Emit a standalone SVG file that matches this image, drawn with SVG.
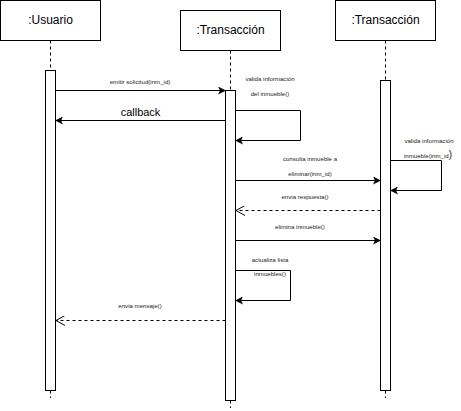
<svg xmlns="http://www.w3.org/2000/svg" width="461" height="411" viewBox="0 0 461 411">
<style>
.box{fill:#fff;stroke:#000;stroke-width:1}
.act{fill:#fff;stroke:#000;stroke-width:1}
.life{stroke:#000;stroke-width:1;stroke-dasharray:3,3;fill:none}
.msg{stroke:#000;stroke-width:1;fill:none}
.ret{stroke:#000;stroke-width:1;fill:none;stroke-dasharray:3,3}
.t{font-family:"Liberation Sans",Arial,sans-serif;fill:#000;text-anchor:middle}
.big{font-size:12px}
.sm{font-size:6.1px;fill:#222}
</style>
<defs>
<marker id="fill" markerWidth="8" markerHeight="8" refX="7" refY="4" orient="auto" markerUnits="userSpaceOnUse">
<path d="M0,0 L8,4 L0,8 L2,4 Z" fill="#000"/>
</marker>
<marker id="open" markerWidth="10" markerHeight="10" refX="9" refY="5" orient="auto" markerUnits="userSpaceOnUse">
<path d="M0,0 L9,5 L0,10" fill="none" stroke="#000" stroke-width="1"/>
</marker>
</defs>
<rect width="461" height="411" fill="#fff"/>
<g id="usuario">
<rect class="box" x="0.5" y="0.5" width="100" height="40"/>
<text class="t big" x="50.5" y="24">:Usuario</text>
<line class="life" x1="50.5" y1="40.5" x2="50.5" y2="70.5"/>
<rect class="act" x="45.5" y="70.5" width="10" height="320"/>
<line class="life" x1="50.5" y1="390.5" x2="50.5" y2="398"/>
</g>
<g id="transaccion1">
<rect class="box" x="180.5" y="10.5" width="100" height="40"/>
<text class="t big" x="230.5" y="34">:Transacción</text>
<line class="life" x1="230.5" y1="50.5" x2="230.5" y2="90.5"/>
<rect class="act" x="225.5" y="90.5" width="10" height="310"/>
<line class="life" x1="230.5" y1="400.5" x2="230.5" y2="408"/>
</g>
<g id="transaccion2">
<rect class="box" x="335.5" y="0.5" width="100" height="40"/>
<text class="t big" x="385.5" y="24">:Transacción</text>
<line class="life" x1="385.5" y1="40.5" x2="385.5" y2="80.5"/>
<rect class="act" x="380.5" y="80.5" width="10" height="310"/>
<line class="life" x1="385.5" y1="390.5" x2="385.5" y2="398"/>
</g>
<g id="connectors">
<line class="msg" x1="55.5" y1="90.5" x2="225" y2="90.5" marker-end="url(#fill)"/>
<text class="t sm" x="140" y="84">emitir solicitud(inm_id)</text>
<line class="msg" x1="225.5" y1="120.5" x2="56" y2="120.5" marker-end="url(#fill)"/>
<text class="t" style="font-size:11px" x="140.5" y="116">callback</text>
<polyline class="msg" points="235.5,110.5 300.5,110.5 300.5,140.5 236,140.5" marker-end="url(#fill)"/>
<text class="t sm" x="270" y="81">valida información</text>
<text class="t sm" x="270" y="96">del inmueble()</text>
<polyline class="msg" points="390.5,160.5 441.5,160.5 441.5,190.5 391,190.5" marker-end="url(#fill)"/>
<text class="t sm" x="429" y="143">valida información</text>
<text class="t sm" x="428" y="157.5">inmueble(inm_id<tspan style="font-size:10px">)</tspan></text>
<line class="msg" x1="235.5" y1="180.5" x2="380" y2="180.5" marker-end="url(#fill)"/>
<text class="t sm" x="310" y="161">consulta inmueble a</text>
<text class="t sm" x="310" y="176">eliminar(inm_id)</text>
<line class="ret" x1="380.5" y1="210.5" x2="236" y2="210.5" marker-end="url(#open)"/>
<text class="t sm" x="305" y="199">envia respuesta()</text>
<line class="msg" x1="235.5" y1="240.5" x2="380" y2="240.5" marker-end="url(#fill)"/>
<text class="t sm" x="300" y="229">elimina inmueble()</text>
<polyline class="msg" points="235.5,270.5 290.5,270.5 290.5,300.5 236,300.5" marker-end="url(#fill)"/>
<text class="t sm" x="270" y="262">actualiza lista</text>
<text class="t sm" x="270" y="276">inmuebles()</text>
<line class="ret" x1="225.5" y1="320.5" x2="56" y2="320.5" marker-end="url(#open)"/>
<text class="t sm" x="140" y="308">envia mensaje()</text>
</g>
</svg>
